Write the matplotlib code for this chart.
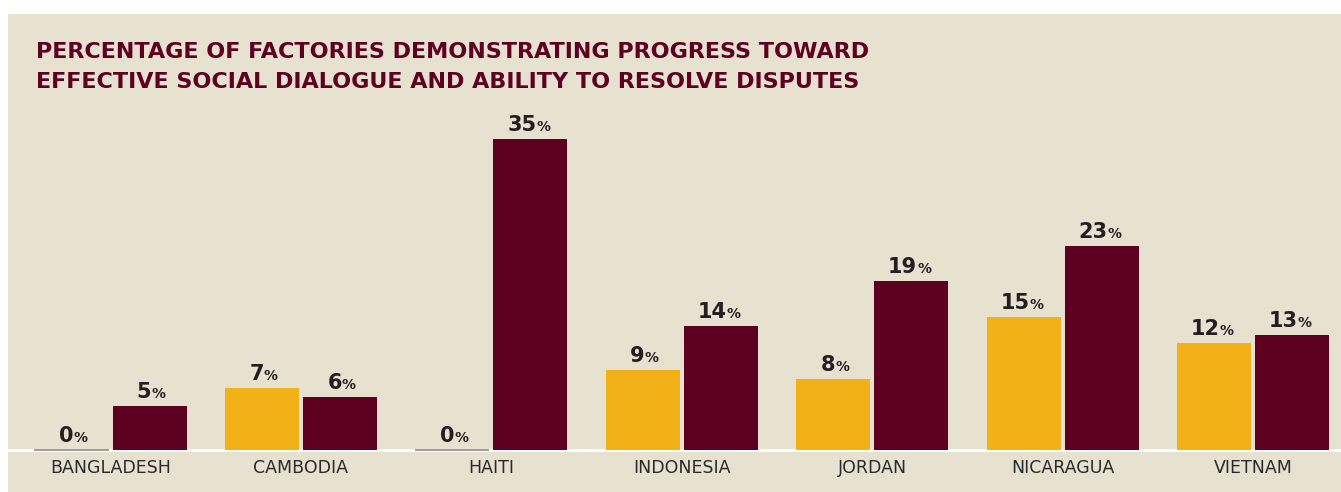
import matplotlib
matplotlib.use("Agg")
import matplotlib.pyplot as plt
from matplotlib.transforms import offset_copy

countries = ["BANGLADESH", "CAMBODIA", "HAITI", "INDONESIA", "JORDAN", "NICARAGUA", "VIETNAM"]
series_a = [0, 7, 0, 9, 8, 15, 12]     # yellow
series_b = [5, 6, 35, 14, 19, 23, 13]  # maroon
title_lines = ["PERCENTAGE OF FACTORIES DEMONSTRATING PROGRESS TOWARD",
               "EFFECTIVE SOCIAL DIALOGUE AND ABILITY TO RESOLVE DISPUTES"]

BG = "#e7e1d0"
YEL = "#f2b116"
MAR = "#5e0020"
TXT = "#231f20"
TITLE_C = "#5e0020"

W, H = 1341, 492
fig = plt.figure(figsize=(W / 100, H / 100), dpi=100)
fig.patch.set_facecolor("white")

ax = fig.add_axes([8 / W, 0, 1 - 8 / W, (H - 14) / H])
ax.set_facecolor(BG)
for s in ax.spines.values():
    s.set_visible(False)
ax.set_xticks([])
ax.set_yticks([])

px_per_unit = 8.88
base_px = 42  # baseline distance from bottom of axes in px
ax_h = H - 14
ax.set_ylim(-base_px / px_per_unit, (ax_h - base_px) / px_per_unit)
gs = 190.4
c0 = 110.5
ax.set_xlim((8 - c0) / gs, (W - c0) / gs)

bw = 74 / gs
off = 39 / gs
xs = list(range(len(countries)))

ax.axhline(0, color="white", lw=2.2, zorder=1)

def label(x, v):
    num = f"{v}"
    nd = len(num)
    shift = 6 if nd == 2 else 2
    t1 = offset_copy(ax.transData, fig=fig, x=shift, y=8, units="dots")
    ax.text(x, v, num, transform=t1, ha="right", va="baseline",
            fontsize=15, fontweight="bold", color=TXT, family="DejaVu Sans")
    ax.text(x, v, "%", transform=t1, ha="left", va="baseline",
            fontsize=10, fontweight="bold", color=TXT, family="DejaVu Sans")

for i in xs:
    for val, dx, col in ((series_a[i], -off, YEL), (series_b[i], off, MAR)):
        xc = i + dx
        if val == 0:
            ax.bar(xc, 0, width=bw, bottom=0, color="none", edgecolor="#8a8a8a",
                   linewidth=1.2, zorder=3)
        else:
            ax.bar(xc, val, width=bw, color=col, zorder=2, linewidth=0)
        label(xc, val)
    ax.text(i, -18 / px_per_unit, countries[i], ha="center", va="center",
            fontsize=12.5, color="#2a2a2a", family="DejaVu Sans")

for k, line in enumerate(title_lines):
    fig.text(36 / W, 1 - (58 + 30 * k) / H, line, ha="left", va="baseline",
             fontsize=16, fontweight="bold", color=TITLE_C, family="DejaVu Sans")

fig.savefig("out.png", dpi=100, facecolor=fig.get_facecolor())
